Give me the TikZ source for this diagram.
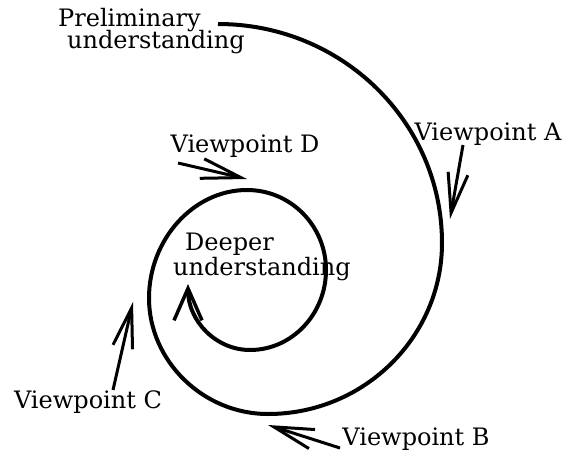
\documentclass[tikz,border=0pt]{standalone}
\usepackage{fontspec}
\setmainfont{DejaVu Serif}
\usetikzlibrary{arrows.meta}
\begin{document}
\begin{tikzpicture}[x=1pt,y=-1pt,
  lbl/.style={inner sep=0pt, anchor=base, font=\fontsize{24}{24}\selectfont},
  lbl2/.style={inner sep=0pt, anchor=base west, align=left, font=\fontsize{24}{24}\selectfont},
  spiral/.style={line width=4pt, line cap=butt, line join=round},
  vparrow/.style={line width=3pt, -{Straight Barb[length=40pt,width=20pt,line width=3pt]}},
  spiralhead/.style={-{Straight Barb[length=32pt,width=28pt,line width=3.5pt]}}
]
\useasboundingbox (0,0) rectangle (566,456);

% labels (base anchor = baseline of the last line)
\node[lbl2] (prelim) at (58,48) {Preliminary\\[-2pt]\hspace*{9pt}understanding};
\node[lbl2] (deep) at (173,275) {\hspace*{12pt}Deeper\\[1pt]understanding};
\node[lbl] (vA) at (488,140) {Viewpoint A};
\node[lbl] (vB) at (416,445) {Viewpoint B};
\node[lbl] (vC) at (88,408) {Viewpoint C};
\node[lbl] (vD) at (245,152) {Viewpoint D};

% spiral
\draw[spiral, spiralhead] (218,24)
  .. controls (342,24) and (442,122) .. (442,243)
  .. controls (442,337) and (364,414) .. (268,414)
  .. controls (203,414) and (149,361) .. (149,298)
  .. controls (149,240) and (193,190) .. (247,190)
  .. controls (291,190) and (326,226) .. (326,270)
  .. controls (326,314) and (292,350) .. (250,350)
  .. controls (216,350) and (188,321) .. (188,284);

% viewpoint arrows
\coordinate (aS) at (463,145); \coordinate (aT) at (450,219);
\coordinate (bS) at (340,448); \coordinate (bT) at (268,425);
\coordinate (cS) at (113,390); \coordinate (cT) at (133,302);
\coordinate (dS) at (178,163); \coordinate (dT) at (247,179);
\draw[vparrow] (aS) -- (aT);
\draw[vparrow] (bS) -- (bT);
\draw[vparrow] (cS) -- (cT);
\draw[vparrow] (dS) -- (dT);
\end{tikzpicture}
\end{document}
